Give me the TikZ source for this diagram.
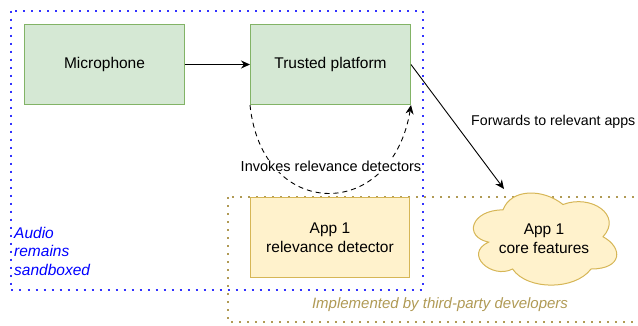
\documentclass[tikz,border=0pt]{standalone}
\usepackage{fontspec}
\setmainfont{Liberation Sans}
\usetikzlibrary{arrows.meta}
\definecolor{gfill}{HTML}{D5E8D4}
\definecolor{gline}{HTML}{82B366}
\definecolor{yfill}{HTML}{FFF2CC}
\definecolor{yline}{HTML}{D6B656}
\definecolor{bluedot}{HTML}{3333FF}
\definecolor{tan}{HTML}{B09A55}
\begin{document}
\begin{tikzpicture}[x=1pt,y=-1pt,
  greenbox/.style={draw=gline,fill=gfill,line width=1pt,minimum width=160pt,minimum height=80pt,anchor=north west,inner sep=0pt,font=\fontsize{15.5}{19}\selectfont,align=center},
  yellowbox/.style={draw=yline,fill=yfill,line width=1pt,minimum width=159pt,minimum height=80pt,anchor=north west,inner sep=0pt,font=\fontsize{15.5}{19}\selectfont,align=center},
  lbl/.style={font=\fontsize{14.5}{17}\selectfont,inner sep=1pt},
  arr/.style={line width=0.9pt,-{Stealth[length=9pt,width=8pt]}},
  bluebox/.style={draw=bluedot,line width=2pt,dash pattern=on 2pt off 6pt},
  tanbox/.style={draw=tan,line width=1.6pt,dash pattern=on 1.6pt off 6.4pt},
  cloudshape/.style={draw=yline,fill=yfill,line width=1pt}
]
\useasboundingbox (0,0) rectangle (638,325);
% dotted groups
\draw[tanbox] (228,197) rectangle (650,322);
\draw[bluebox] (10.5,10.5) rectangle (422.5,289.5);
% nodes
\node[greenbox] (mic) at (24,24) {Microphone};
\node[greenbox] (tp) at (250,24) {Trusted platform};
\node[yellowbox] (rd) at (250,197) {App 1\\relevance detector};
% cloud (draw.io cloud outline)
\begin{scope}[shift={(463,183)},x=160pt,y=-107.5pt]
\draw[cloudshape] (0.25,0.25)
  .. controls (0.05,0.25) and (0,0.5) .. (0.16,0.55)
  .. controls (0,0.66) and (0.18,0.9) .. (0.31,0.8)
  .. controls (0.4,1) and (0.7,1) .. (0.8,0.8)
  .. controls (1,0.8) and (1,0.6) .. (0.875,0.5)
  .. controls (1,0.3) and (0.8,0.1) .. (0.625,0.2)
  .. controls (0.5,0.05) and (0.3,0.05) .. (0.25,0.25) -- cycle;
\end{scope}
\node[align=center,font=\fontsize{15.5}{19}\selectfont,inner sep=0pt] (cl) at (544,239) {App 1\\core features};
\coordinate (cltop) at (504,189);
% connectors
\draw[arr] (mic.east) -- (tp.west);
\draw[arr] (tp.east) -- (cltop);
\draw[line width=0.9pt,dash pattern=on 5pt off 4pt,-{Stealth[length=9pt,width=8pt]}] (tp.south west) .. controls (262,222) and (392,222) .. (tp.south east);
% labels
\node[lbl,fill=white] (inv) at (331,166) {Invokes relevance detectors};
\node[font=\fontsize{14.2}{17}\selectfont,inner sep=0pt,anchor=west] (fw) at (471,122) {Forwards to relevant apps};
\node[font=\fontsize{15.5}{18.5}\selectfont\itshape,text=blue,align=left,anchor=west,inner sep=0pt] (aud) at (14,251) {Audio\\remains\\sandboxed};
\node[font=\fontsize{15}{18}\selectfont\itshape,text=tan,inner sep=0pt] (impl) at (440,305) {Implemented by third-party developers};
\end{tikzpicture}
\end{document}
